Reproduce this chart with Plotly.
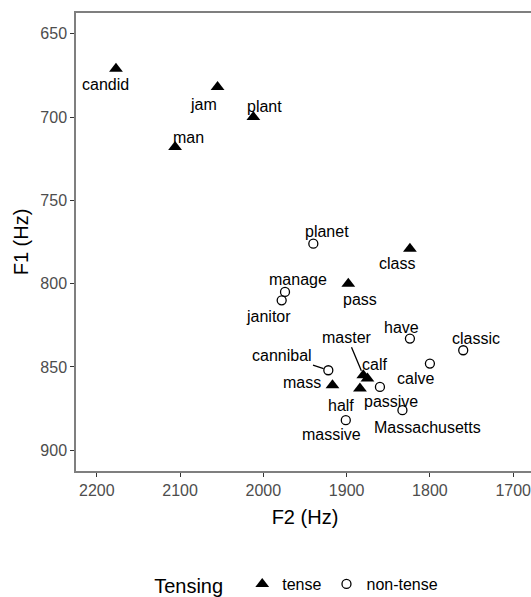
import plotly.graph_objects as go

# ---- data ----
words = ["candid", "jam", "plant", "man", "planet", "class", "pass", "manage",
         "janitor", "have", "classic", "cannibal", "calve", "master", "calf",
         "mass", "half", "passive", "Massachusetts", "massive"]
f2 = [2177, 2055, 2012, 2106, 1940, 1824, 1898, 1974,
      1978, 1824, 1760, 1922, 1800, 1880, 1875,
      1917, 1884, 1860, 1833, 1901]
f1 = [671, 682, 700, 718, 776, 779, 800, 805,
      810, 833, 840, 852, 848, 855, 857,
      861, 863, 862, 876, 882]
tensing = ["tense", "tense", "tense", "tense", "non-tense", "tense", "tense", "non-tense",
           "non-tense", "non-tense", "non-tense", "non-tense", "non-tense", "tense", "tense",
           "tense", "tense", "non-tense", "non-tense", "non-tense"]
x_ticks = [2200, 2100, 2000, 1900, 1800, 1700]
y_ticks = [650, 700, 750, 800, 850, 900]

# ---- label placement (pixel offsets, screen coords: +dy = down) ----
label_offsets = {
    "candid": (-10, 16), "jam": (-14, 17), "plant": (11, -11), "man": (13, -10),
    "planet": (14, -12), "class": (-13, 15), "pass": (12, 16), "manage": (13, -12),
    "janitor": (-13, 16), "have": (-8, -11), "classic": (13, -12),
    "cannibal": (-46, -15), "calve": (-14, 15), "master": (-16, -38),
    "calf": (7, -14), "mass": (-30, -3), "half": (-19, 17), "passive": (11, 15),
    "Massachusetts": (25, 17), "massive": (-14, 14),
}
segment_labels = {"cannibal", "master"}

FONT = "Liberation Sans, Arial, sans-serif"

fig = go.Figure()
styles = {
    "tense": dict(symbol="triangle-up", size=12, color="black"),
    "non-tense": dict(symbol="circle-open", size=9, color="black", line=dict(width=1.3, color="black")),
}
for grp in ["tense", "non-tense"]:
    xs = [a for a, t in zip(f2, tensing) if t == grp]
    ys = [b for b, t in zip(f1, tensing) if t == grp]
    fig.add_trace(go.Scatter(x=xs, y=ys, mode="markers", name=grp,
                             marker=styles[grp], hoverinfo="skip"))

for w, a, b in zip(words, f2, f1):
    dx, dy = label_offsets[w]
    if w in segment_labels:
        fig.add_annotation(x=a, y=b, xref="x", yref="y", text=w,
                           showarrow=True, ax=dx, ay=dy, arrowhead=0,
                           arrowwidth=1.3, arrowcolor="black", standoff=5,
                           font=dict(family=FONT, size=16, color="black"))
    else:
        fig.add_annotation(x=a, y=b, xref="x", yref="y", text=w,
                           showarrow=False, xshift=dx, yshift=-dy,
                           font=dict(family=FONT, size=16, color="black"))

axis_common = dict(
    showgrid=False, zeroline=False, showline=True, linecolor="#7f7f7f", linewidth=1.5,
    ticks="outside", ticklen=4, tickwidth=1.3, tickcolor="#333333",
    tickfont=dict(family=FONT, size=16, color="#4d4d4d"),
)
fig.update_xaxes(range=[2225, 1675], tickmode="array", tickvals=x_ticks,
                 ticktext=[str(v) for v in x_ticks], mirror=True,
                 title=dict(text="F2 (Hz)", font=dict(family=FONT, size=20, color="black"), standoff=12),
                 **axis_common)
fig.update_yaxes(range=[912.5, 637.5], tickmode="array", tickvals=y_ticks,
                 ticktext=[str(v) for v in y_ticks], mirror=False,
                 title=dict(text="F1 (Hz)", font=dict(family=FONT, size=20, color="black"), standoff=6),
                 **axis_common)

fig.update_layout(
    width=534, height=597,
    margin=dict(l=76, r=0, t=13, b=126, autoexpand=False),
    plot_bgcolor="white", paper_bgcolor="white",
    font=dict(family=FONT, size=16, color="black"),
    showlegend=True,
    legend=dict(orientation="h", x=0.484, xanchor="center", y=-0.249, yanchor="middle",
                title=dict(text="Tensing  ", font=dict(family=FONT, size=20, color="black")),
                font=dict(family=FONT, size=16, color="black"),
                itemwidth=30),
)

fig.write_html("out.html", config={"displayModeBar": False},
               post_script="document.body.style.margin='0px';document.body.style.overflow='hidden';")
